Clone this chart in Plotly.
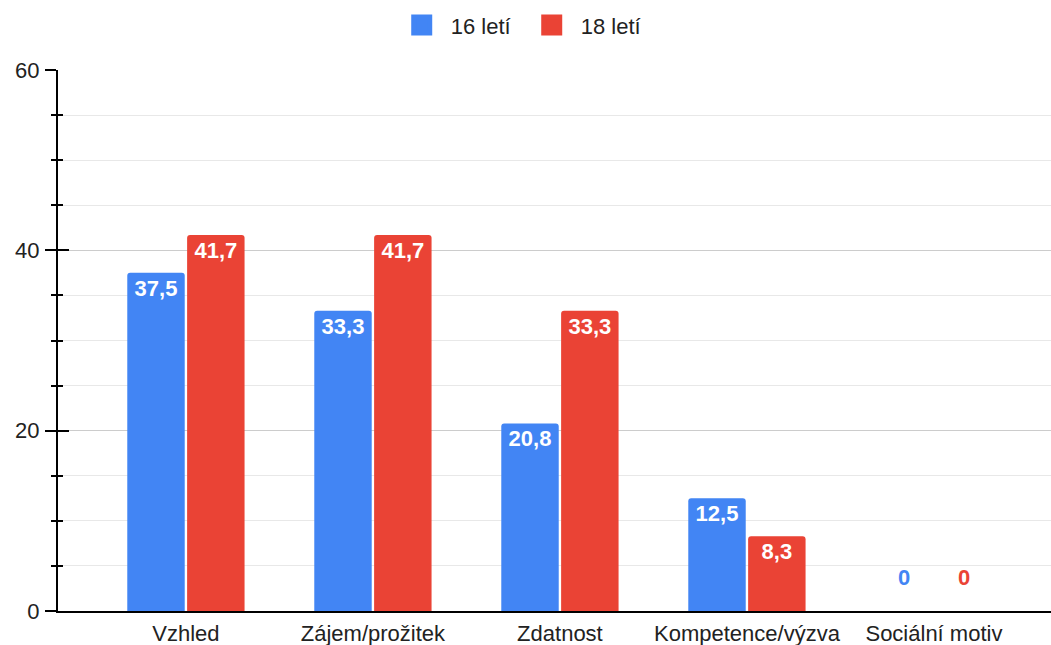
import plotly.graph_objects as go

categories = ["Vzhled", "Zájem/prožitek", "Zdatnost", "Kompetence/výzva", "Sociální motiv"]
series_names = ["16 letí", "18 letí"]
values_16 = [37.5, 33.3, 20.8, 12.5, 0]
values_18 = [41.7, 41.7, 33.3, 8.3, 0]
colors = ["#4285F4", "#EA4335"]
y_ticks = [0, 20, 40, 60]

FONT = "Arial, 'Liberation Sans', sans-serif"
FS = 22
BARGAP = 0.36

def fmt(v):
    return ("%.1f" % v).replace(".", ",") if v != 0 else ""

fig = go.Figure()
all_vals = [values_16, values_18]
for name, vals, col in zip(series_names, all_vals, colors):
    fig.add_trace(go.Bar(
        x=categories, y=vals, name=name, marker=dict(color=col, line=dict(width=0)),
        text=[fmt(v) for v in vals], textposition="inside", insidetextanchor="end",
        textangle=0, constraintext="none",
        insidetextfont=dict(family=FONT, size=FS, color="white", weight="bold"),
        showlegend=False, hoverinfo="skip",
    ))
    # legend proxy
    fig.add_trace(go.Scatter(
        x=[None], y=[None], mode="markers", name=name,
        marker=dict(symbol="square", size=16, color=col, line=dict(width=5, color=col)),
        showlegend=True,
    ))

# zero labels drawn where Google Sheets puts them
slot = (1 - BARGAP) / 2
annotations = []
for s, (vals, col) in enumerate(zip(all_vals, colors)):
    off = (s - 0.5) * slot
    for i, v in enumerate(vals):
        if v == 0:
            annotations.append(dict(
                x=i + off, y=0, xref="x", yref="y", text="0", showarrow=False,
                yshift=34, font=dict(family=FONT, size=FS, color=col, weight="bold"),
            ))

fig.update_layout(
    width=1051, height=645,
    margin=dict(l=58, r=0, t=70, b=34),
    paper_bgcolor="white", plot_bgcolor="white",
    barmode="group", bargap=BARGAP, bargroupgap=0.04, barcornerradius=3,
    font=dict(family=FONT, size=FS, color="#222222"),
    legend=dict(orientation="h", x=0.468, xanchor="center", y=0.961, yanchor="middle",
                yref="container", font=dict(family=FONT, size=FS, color="#222222"),
                itemwidth=48, entrywidth=67, tracegroupgap=0),
    annotations=annotations,
    xaxis=dict(
        type="category", range=[-0.684, 4.626], showgrid=False,
        showline=True, linecolor="black", linewidth=2, ticks="",
        tickfont=dict(family=FONT, size=FS, color="#222222"), zeroline=False,
        ticklabelstandoff=2,
    ),
    yaxis=dict(
        range=[0, 60], tickvals=y_ticks, showgrid=True, gridcolor="#cccccc", gridwidth=1,
        showline=True, linecolor="black", linewidth=2, ticks="outside", ticklen=11,
        tickcolor="black", tickwidth=2, zeroline=False, ticklabelstandoff=1,
        tickfont=dict(family=FONT, size=FS, color="#222222"),
        minor=dict(dtick=5, showgrid=True, gridcolor="#e8e8e8", ticks="outside",
                   ticklen=5, tickcolor="black", tickwidth=1.5),
    ),
    yaxis2=dict(
        range=[0, 60], tickvals=y_ticks, overlaying="y", side="left", showgrid=False,
        showticklabels=False, ticks="inside", ticklen=11, tickcolor="black", tickwidth=2,
        zeroline=False, showline=False,
        minor=dict(dtick=5, showgrid=False, ticks="inside", ticklen=5,
                   tickcolor="black", tickwidth=1.5),
    ),
)
fig.add_trace(go.Scatter(x=[None], y=[None], yaxis="y2", showlegend=False, hoverinfo="skip"))

fig.write_html("out.html", config={"displayModeBar": False},
               post_script="document.body.style.margin='0';")
